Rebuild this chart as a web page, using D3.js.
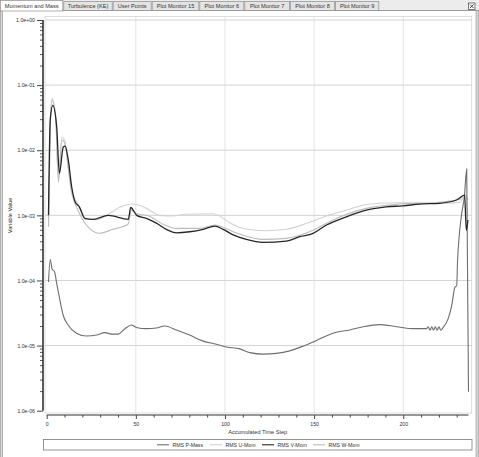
<!DOCTYPE html>
<html lang="en">
  <head>
    <meta charset="UTF-8" />
    <title>Momentum and Mass residuals</title>
    <style>
      body { margin: 0; background: #fff; }
      svg { display: block; font-family: 'Liberation Sans', Arial, sans-serif; }
    </style>
  </head>
  <body>
    <svg width="479" height="457"></svg>
    <script src="https://d3js.org/d3.v7.min.js"></script>
    <script>
      // tabs along the top of the monitor window
      const tabNames = ['Momentum and Mass', 'Turbulence (KE)', 'User Points', 'Plot Monitor 15',
        'Plot Monitor 6', 'Plot Monitor 7', 'Plot Monitor 8', 'Plot Monitor 9'];
      const tabEdges = [0, 63.3, 112.7, 151.7, 199.3, 244.3, 290, 335, 379.3];

      const yTicks = [1, 1e-1, 1e-2, 1e-3, 1e-4, 1e-5, 1e-6];
      const xTicks = [0, 50, 100, 150, 200];

      const seriesNames = ['RMS P-Mass', 'RMS U-Mom', 'RMS V-Mom', 'RMS W-Mom'];
      const seriesColors = ['#6e6e6e', '#d2d2d2', '#262626', '#bcbcbc'];

      // [accumulated time step, value]
      const pMass = [
        [1, 9.5e-5], [2, 2.1e-4], [3, 1.5e-4], [4.4, 1.36e-4], [5.6, 9.0e-5], [7.4, 5.0e-5],
        [9.2, 2.95e-5], [12, 2.07e-5], [16.7, 1.55e-5], [22.3, 1.40e-5], [27.9, 1.45e-5],
        [32.6, 1.58e-5], [36.3, 1.5e-5], [40, 1.5e-5], [43.8, 1.8e-5], [47.5, 2.07e-5],
        [50.3, 1.9e-5], [55.9, 1.82e-5], [61.5, 1.86e-5], [66.2, 2.0e-5], [72.7, 1.74e-5],
        [80.2, 1.45e-5], [87.7, 1.17e-5], [95.2, 1.05e-5], [100.8, 9.5e-6], [108.3, 8.9e-6],
        [113.9, 7.8e-6], [121.3, 7.4e-6], [128.8, 7.6e-6], [136.3, 8.3e-6], [143.8, 9.8e-6],
        [151.3, 1.2e-5], [160.6, 1.55e-5], [170, 1.74e-5], [177.5, 1.95e-5], [186.8, 2.1e-5],
        [196.2, 1.95e-5], [205.5, 1.82e-5], [213, 1.82e-5], [214, 1.95e-5], [215, 1.72e-5],
        [216, 1.95e-5], [217, 1.72e-5], [218, 1.95e-5], [219, 1.72e-5], [220, 1.95e-5],
        [221, 1.72e-5], [222.4, 1.9e-5], [225.2, 2.6e-5], [227.1, 4.0e-5], [229, 7.9e-5],
        [230, 8.3e-5], [230.4, 1.8e-4], [231.5, 5.2e-4], [232.8, 1.07e-3], [234.3, 1.95e-3],
        [235.6, 5.2e-3], [236.6, 1.95e-6]
      ];
      const uMom = [
        [1, 6.7e-4], [2, 2.0e-2], [2.9, 6.3e-2], [5, 3.5e-2], [6.6, 3.5e-3], [8.5, 1.6e-2],
        [10, 1.45e-2], [13.7, 2.75e-3], [18.4, 1.35e-3], [22.1, 9.0e-4], [27.7, 8.5e-4],
        [35.2, 1.07e-3], [42.7, 1.39e-3], [48.4, 1.49e-3], [55.9, 1.28e-3], [63.4, 1.0e-3],
        [70.9, 9.8e-4], [78, 1.04e-3], [93.3, 1.06e-3], [97, 9.8e-4], [102.7, 7.7e-4],
        [110.2, 6.3e-4], [123.3, 5.8e-4], [134.4, 6.1e-4], [145.6, 7.5e-4], [156.9, 9.8e-4],
        [168.1, 1.2e-3], [179.3, 1.47e-3], [194.3, 1.56e-3], [209.2, 1.56e-3], [220.4, 1.53e-3],
        [231.7, 1.58e-3], [234.4, 1.93e-3], [236.3, 1.07e-3]
      ];
      const vMom = [
        [1, 1.0e-3], [2, 3.0e-2], [3.4, 4.9e-2], [5.6, 2.3e-2], [7.1, 4.4e-3], [9.3, 1.12e-2],
        [10.3, 1.16e-2], [12.1, 7.1e-3], [14, 2.75e-3], [15.9, 1.62e-3], [18.3, 1.35e-3],
        [21.5, 8.9e-4], [26.1, 8.7e-4], [34.5, 1.0e-3], [45.8, 8.7e-4], [47.1, 1.32e-3],
        [50.5, 1.0e-3], [55.9, 9.0e-4], [61.5, 7.6e-4], [67.1, 6.1e-4], [72.7, 5.4e-4],
        [80.2, 5.6e-4], [87.7, 6.1e-4], [94.3, 6.85e-4], [99, 6.1e-4], [104.6, 5.0e-4],
        [112, 4.27e-4], [121.3, 3.85e-4], [134.4, 4.03e-4], [141.9, 4.7e-4], [149.4, 5.3e-4],
        [156.9, 7.1e-4], [168.1, 9.5e-4], [179.3, 1.2e-3], [190.5, 1.35e-3], [199.9, 1.4e-3],
        [209.2, 1.49e-3], [220.4, 1.53e-3], [229.8, 1.72e-3], [234.4, 2.05e-3], [235.4, 5.9e-4],
        [236.3, 8.5e-4]
      ];
      const wMom = [
        [1, 6.7e-4], [2, 2.5e-2], [2.9, 5.9e-2], [5, 3.2e-2], [6.6, 3.2e-3], [8.5, 1.45e-2],
        [10, 1.3e-2], [13.7, 2.45e-3], [18.4, 1.07e-3], [24, 6.3e-4], [29.6, 5.3e-4],
        [37.1, 6.1e-4], [45.6, 7.3e-4], [47.5, 1.2e-3], [50.3, 1.07e-3], [57.3, 9.8e-4],
        [66.2, 7.1e-4], [72.7, 6.3e-4], [85.5, 6.3e-4], [94.3, 7.1e-4], [104.6, 5.6e-4],
        [121.3, 4.27e-4], [134.4, 4.43e-4], [149.4, 5.9e-4], [160.6, 8.5e-4], [179.3, 1.28e-3],
        [198, 1.49e-3], [216.8, 1.56e-3], [231.7, 1.76e-3], [234.4, 2.05e-3], [236.3, 1.72e-3]
      ];
      const allSeries = [pMass, uMom, vMom, wMom];

      const svg = d3.select('svg');

      // window chrome
      svg.append('rect').attr('x', 0).attr('y', 0).attr('width', 479).attr('height', 11)
        .attr('fill', '#ececec');
      svg.append('line').attr('x1', 0).attr('x2', 479).attr('y1', 10.5).attr('y2', 10.5)
        .attr('stroke', '#9a9a9a');
      svg.append('rect').attr('x', 0.5).attr('y', 10.5).attr('width', 2).attr('height', 447)
        .attr('fill', '#d8d8d8').attr('stroke', '#8c8c8c').attr('stroke-width', 0.6);
      svg.append('rect').attr('x', 476).attr('y', 10.5).attr('width', 2.5).attr('height', 447)
        .attr('fill', '#d8d8d8').attr('stroke', '#8c8c8c').attr('stroke-width', 0.6);

      const tabs = svg.append('g').attr('class', 'tabs');
      tabNames.forEach((name, i) => {
        const x0 = tabEdges[i], x1 = tabEdges[i + 1];
        tabs.append('rect')
          .attr('x', x0 + 0.5).attr('y', i === 0 ? 0.5 : 1.5)
          .attr('width', x1 - x0 - 1).attr('height', i === 0 ? 10.5 : 9)
          .attr('fill', i === 0 ? '#fff' : '#e4e4e4')
          .attr('stroke', '#8e8e8e').attr('stroke-width', 0.7);
        tabs.append('text')
          .attr('x', (x0 + x1) / 2).attr('y', 8)
          .attr('text-anchor', 'middle').attr('font-size', 5.6).attr('fill', '#333')
          .text(name);
      });
      svg.append('rect').attr('x', 468.5).attr('y', 3).attr('width', 6.5).attr('height', 6.5)
        .attr('fill', '#fff').attr('stroke', '#555').attr('stroke-width', 0.8);
      svg.append('path').attr('d', 'M470,4.5L473.5,8M473.5,4.5L470,8')
        .attr('stroke', '#333').attr('stroke-width', 0.9);

      // plot
      const x = d3.scaleLinear().domain([0, 236.6]).range([46.7, 468.5]);
      const y = d3.scaleLog().domain([1e-6, 1]).range([410.7, 20]);

      svg.append('rect').attr('x', 45).attr('y', 16.5).attr('width', 426.7).attr('height', 396.5)
        .attr('fill', '#fff').attr('stroke', '#d4d4d4').attr('stroke-width', 0.8);

      const grid = svg.append('g').attr('class', 'grid');
      grid.selectAll('line.h').data(yTicks.slice(0, 6)).enter().append('line')
        .attr('class', 'h')
        .attr('x1', 45).attr('x2', 471.7)
        .attr('y1', (d) => y(d)).attr('y2', (d) => y(d))
        .attr('stroke', '#c8c8c8').attr('stroke-width', 0.8);
      grid.selectAll('line.v').data(xTicks.slice(1)).enter().append('line')
        .attr('class', 'v')
        .attr('x1', (d) => x(d)).attr('x2', (d) => x(d))
        .attr('y1', 16.5).attr('y2', 413)
        .attr('stroke', '#dcdcdc').attr('stroke-width', 0.8);

      // y axis
      const minorY = [];
      yTicks.slice(0, 6).forEach((t) => {
        for (let k = 2; k <= 9; k++) minorY.push(t / 10 * k);
      });
      const yAxis = svg.append('g').attr('transform', 'translate(43,0)');
      yAxis.call(d3.axisLeft(y).tickValues(minorY).tickSize(3).tickFormat(''));
      yAxis.call((g) => g.selectAll('.tick line').attr('stroke', '#555'));
      yAxis.select('.domain').remove();
      const yMajor = svg.append('g').attr('transform', 'translate(43,0)');
      yMajor.call(d3.axisLeft(y).tickValues(yTicks).tickSize(6).tickPadding(2)
        .tickFormat((d) => d3.format('.1e')(d).replace(/e([+-])(\d)$/, 'e$10$2')));
      yMajor.select('.domain').attr('stroke', '#333').attr('stroke-width', 1.6)
        .attr('d', `M0,${y(1)}V${y(1e-6)}`);
      yMajor.selectAll('.tick line').attr('stroke', '#444');
      yMajor.selectAll('.tick text').attr('font-size', 5.2).attr('fill', '#333')
        .attr('font-family', "'Liberation Sans', Arial, sans-serif");

      svg.append('text')
        .attr('transform', `translate(12,${(y(1) + y(1e-6)) / 2}) rotate(-90)`)
        .attr('text-anchor', 'middle').attr('font-size', 5.6).attr('fill', '#333')
        .text('Variable Value');

      // x axis
      const minorX = d3.range(0, 231, 10).filter((d) => d % 50 !== 0);
      const xAxisMinor = svg.append('g').attr('transform', 'translate(0,415)');
      xAxisMinor.call(d3.axisBottom(x).tickValues(minorX).tickSize(2.5).tickFormat(''));
      xAxisMinor.select('.domain').remove();
      xAxisMinor.selectAll('.tick line').attr('stroke', '#444');
      const xAxis = svg.append('g').attr('transform', 'translate(0,415)');
      xAxis.call(d3.axisBottom(x).tickValues(xTicks).tickSize(4).tickPadding(3));
      xAxis.select('.domain').attr('stroke', '#333').attr('stroke-width', 1.2)
        .attr('d', `M${x(0)},0H${x(236.6)}`);
      xAxis.selectAll('.tick line').attr('stroke', '#444');
      xAxis.selectAll('.tick text').attr('font-size', 5.2).attr('fill', '#333')
        .attr('font-family', "'Liberation Sans', Arial, sans-serif");

      svg.append('text')
        .attr('x', 257.7).attr('y', 434)
        .attr('text-anchor', 'middle').attr('font-size', 5.6).attr('fill', '#333')
        .text('Accumulated Time Step');

      // series lines
      const line = d3.line().x((d) => x(d[0])).y((d) => y(d[1])).curve(d3.curveMonotoneX);
      const drawOrder = [1, 3, 0, 2];
      drawOrder.forEach((i) => {
        svg.append('path')
          .datum(allSeries[i])
          .attr('fill', 'none')
          .attr('stroke', seriesColors[i])
          .attr('stroke-width', i === 2 ? 1.3 : 1.1)
          .attr('stroke-linejoin', 'round')
          .attr('d', line);
      });

      // legend
      svg.append('rect').attr('x', 43.5).attr('y', 439.5).attr('width', 428.5).attr('height', 10.5)
        .attr('fill', '#fff').attr('stroke', '#7a7a7a').attr('stroke-width', 0.8);
      const legendX = [157, 210, 262, 313];
      const legend = svg.append('g');
      seriesNames.forEach((name, i) => {
        legend.append('line')
          .attr('x1', legendX[i]).attr('x2', legendX[i] + 12)
          .attr('y1', 444.8).attr('y2', 444.8)
          .attr('stroke', seriesColors[i]).attr('stroke-width', 1.1);
        legend.append('text')
          .attr('x', legendX[i] + 15.5).attr('y', 446.8)
          .attr('font-size', 5.2).attr('fill', '#333')
          .text(name);
      });
    </script>
  </body>
</html>
